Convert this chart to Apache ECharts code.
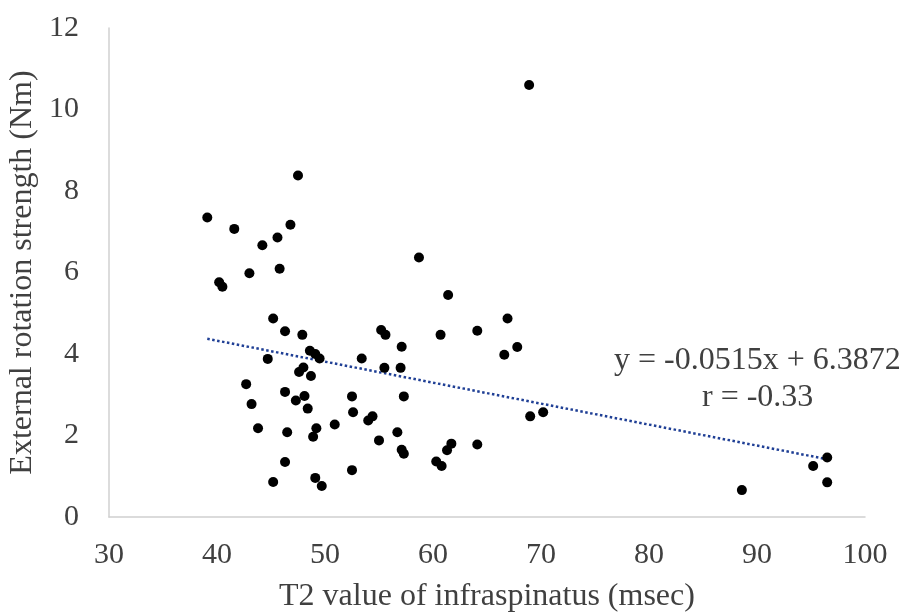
<!DOCTYPE html>
<html lang="en">
<head>
<meta charset="UTF-8">
<title>T2 value vs external rotation strength</title>
<script src="https://cdn.jsdelivr.net/npm/echarts@6/dist/echarts.min.js"></script>
<style>
  html, body { margin: 0; padding: 0; background: #fff; }
  #chart { width: 903px; height: 613px; }
</style>
</head>
<body>
<div id="chart"></div>
<script>
// T2 value of infraspinatus (msec)
const t2Values = [
  47.5, 39.1, 41.6, 46.8, 45.6, 44.2, 45.8, 43.0, 40.2, 40.5,
  45.2, 46.3, 47.9, 48.6, 49.1, 49.5, 44.7, 53.4, 48.0, 47.6,
  48.7, 42.7, 46.3, 48.1, 47.3, 52.5, 43.2, 48.4, 52.6, 54.4,
  54.0, 50.9, 49.2, 43.8, 46.5, 48.9, 55.0, 46.3, 52.5, 45.2,
  49.1, 49.7, 58.7, 61.4, 55.2, 55.6, 60.7, 64.1, 66.9, 67.8,
  66.6, 57.1, 55.5, 57.0, 57.3, 69.0, 70.2, 56.7, 57.1, 57.3,
  61.7, 61.3, 64.1, 60.3, 60.8, 68.9, 96.5, 95.2, 96.5, 88.6
];
// External rotation strength (Nm)
const strengthValues = [
  8.38, 7.35, 7.07, 7.17, 6.86, 6.67, 6.09, 5.98, 5.76, 5.65,
  4.87, 4.56, 4.47, 4.08, 4.00, 3.89, 3.88, 3.89, 3.67, 3.56,
  3.46, 3.26, 3.07, 2.97, 2.86, 2.96, 2.77, 2.66, 2.57, 2.47,
  2.37, 2.27, 2.18, 2.18, 2.08, 1.97, 1.88, 1.35, 1.15, 0.86,
  0.96, 0.76, 6.37, 5.45, 4.59, 4.47, 4.47, 4.57, 4.87, 4.17,
  3.98, 4.18, 3.66, 3.66, 2.96, 2.47, 2.57, 2.08, 1.65, 1.55,
  1.80, 1.64, 1.78, 1.36, 1.25, 10.60, 1.46, 1.25, 0.85, 0.66
];
const xTicks = [30, 40, 50, 60, 70, 80, 90, 100];
const yTicks = [0, 2, 4, 6, 8, 10, 12];

// linear trend as printed on the chart
const slope = -0.0515;
const intercept = 6.3872;
const rValue = -0.33;

const points = t2Values.map((x, i) => [x, strengthValues[i]]);
const xMin = Math.min(...t2Values);
const xMax = Math.max(...t2Values);
const trend = [[xMin, slope * xMin + intercept], [xMax, slope * xMax + intercept]];

const font = '"Liberation Serif", "Times New Roman", serif';
const textColor = '#404040';

const chart = echarts.init(document.getElementById('chart'));
chart.setOption({
  animation: false,
  grid: { left: 109, right: 38, top: 28, bottom: 96, outerBoundsMode: 'none', containLabel: false },
  xAxis: {
    type: 'value',
    min: xTicks[0],
    max: xTicks[xTicks.length - 1],
    interval: 10,
    name: 'T2 value of infraspinatus (msec)',
    nameLocation: 'middle',
    nameGap: 64,
    nameTextStyle: { fontFamily: font, fontSize: 32, color: textColor },
    axisLine: { show: true, lineStyle: { color: '#d0d0d0', width: 1.5 } },
    axisTick: { show: false },
    splitLine: { show: false },
    axisLabel: { fontFamily: font, fontSize: 30, color: textColor, margin: 23 }
  },
  yAxis: {
    type: 'value',
    min: yTicks[0],
    max: yTicks[yTicks.length - 1],
    interval: 2,
    name: 'External rotation strength (Nm)',
    nameLocation: 'middle',
    nameGap: 62,
    nameTextStyle: { fontFamily: font, fontSize: 32, color: textColor },
    axisLine: { show: true, lineStyle: { color: '#d0d0d0', width: 1.5 } },
    axisTick: { show: false },
    splitLine: { show: false },
    axisLabel: { fontFamily: font, fontSize: 30, color: textColor, margin: 30 }
  },
  series: [
    {
      type: 'line',
      data: trend,
      symbol: 'none',
      lineStyle: { color: '#1f3f95', width: 2.5, type: [2.5, 2.5] },
      z: 1
    },
    {
      type: 'scatter',
      data: points,
      symbolSize: 10,
      itemStyle: { color: '#000000', opacity: 1 },
      z: 2
    }
  ],
  graphic: [
    {
      type: 'text',
      left: 614,
      top: 345,
      style: {
        text: 'y = ' + slope.toFixed(4) + 'x + ' + intercept.toFixed(4),
        font: '32px ' + font,
        fill: textColor
      }
    },
    {
      type: 'text',
      left: 702,
      top: 382,
      style: {
        text: 'r = ' + rValue.toFixed(2),
        font: '32px ' + font,
        fill: textColor
      }
    }
  ]
});
</script>
</body>
</html>
